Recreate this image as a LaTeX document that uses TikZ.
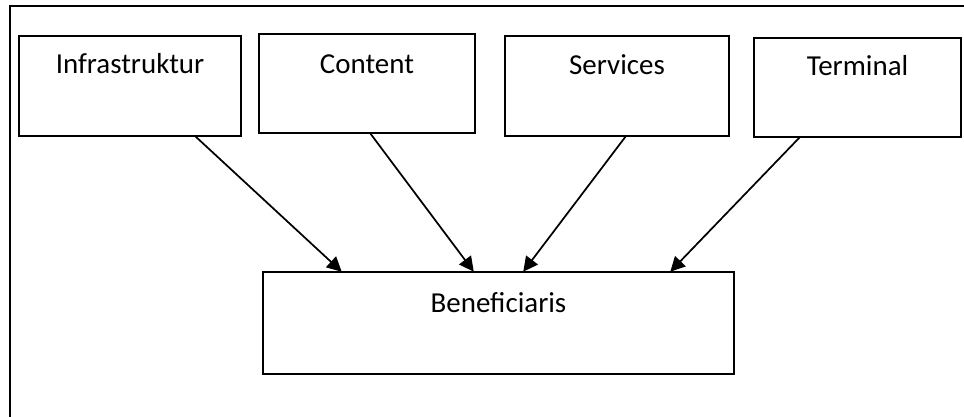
\documentclass[tikz,border=0pt]{standalone}
\usepackage{fontspec}
\setmainfont{Carlito}
\usetikzlibrary{arrows.meta,calc}
\tikzset{
  box/.style={draw, line width=1.35pt, rectangle, inner sep=0pt, outer sep=0pt},
  boxtext/.style={anchor=base, inner sep=0pt, font=\fontsize{21.7}{26}\selectfont},
  conn/.style={line width=1.3pt, -{Triangle[length=11pt,width=11pt]}, shorten >=0.3pt},
  frame/.style={line width=1.2pt}
}
\begin{document}
\begin{tikzpicture}[x=0.75pt,y=-0.75pt]
\useasboundingbox (0,0) rectangle (964,417);
% outer frame (top and left sides visible)
\coordinate (fa) at (964,6);
\coordinate (fb) at (10,6);
\coordinate (fc) at (10,418);
\draw[frame] (fa) -- (fb) -- (fc);
% boxes
\node[box, minimum width=166.5pt, minimum height=75pt,
  label={[boxtext, yshift=-28.5pt]north:Infrastruktur}] (infra) at (130,86) {};
\node[box, minimum width=162pt, minimum height=74.25pt,
  label={[boxtext, yshift=-30pt]north:Content}] (content) at (367,83.5) {};
\node[box, minimum width=168pt, minimum height=75pt,
  label={[boxtext, yshift=-29.25pt]north:Services}] (services) at (617,86) {};
\node[box, minimum width=155.25pt, minimum height=74.25pt,
  label={[boxtext, yshift=-28.5pt]north:Terminal}] (terminal) at (857.5,87.5) {};
\node[box, minimum width=353.25pt, minimum height=76.5pt,
  label={[boxtext, yshift=-30pt]north:Beneficiaris}] (benef) at (498.5,323) {};
% connectors
\draw[conn] ($(infra.south west)+(176,0)$) -- ($(benef.north west)+(79,0)$);
\draw[conn] ($(content.south west)+(111,0)$) -- ($(benef.north west)+(211,0)$);
\draw[conn] ($(services.south west)+(121,0)$) -- ($(benef.north west)+(260,0)$);
\draw[conn] ($(terminal.south west)+(46,0)$) -- ($(benef.north west)+(407,0)$);
\end{tikzpicture}
\end{document}
